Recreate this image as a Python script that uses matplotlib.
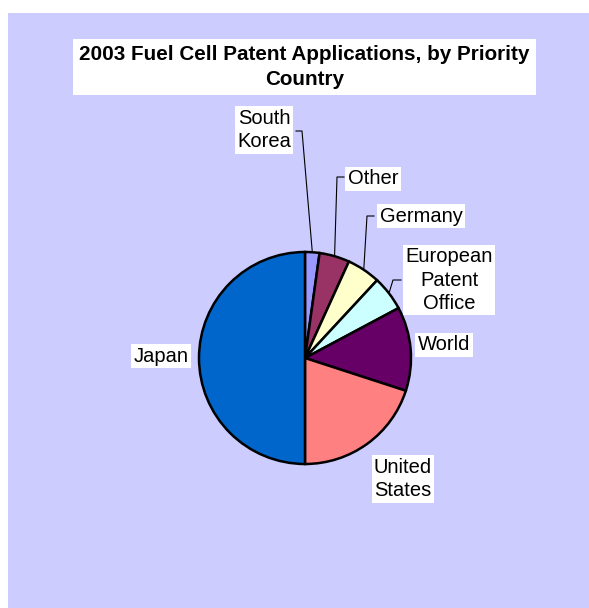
"""
2003 fuel cell patent applications by priority country, drawn as an
Excel-style pie chart with boxed labels and leader lines.
"""

import numpy as np
import matplotlib
matplotlib.use('Agg')
import matplotlib.pyplot as plt
import matplotlib.patches as mpatches

plt.rcParams['font.family'] = ['Liberation Sans', 'DejaVu Sans']

W, H = 589, 608

# ── Data (share of applications, %) ───────────────────────────────────────────
countries = ['South Korea', 'Other', 'Germany', 'European Patent Office',
             'World', 'United States', 'Japan']
shares    = [2.2, 4.6, 5.1, 5.3, 12.8, 20.0, 50.0]
colors    = ['#9999FF', '#993366', '#FFFFCC', '#CCFFFF',
             '#660066', '#FF8080', '#0066CC']
label_text = ['South\nKorea', 'Other', 'Germany', 'European\nPatent\nOffice',
              'World', 'United\nStates', 'Japan']

# label centres in pixels (y measured from the top)
label_pos = [(264, 130), (373, 179), (421, 216), (449, 280),
             (444, 345), (403, 479), (161, 356)]
# leader lines: (label side point, knee); None = no leader
leaders = [((296, 131), (302, 131)),
           ((344, 177), (337, 177)),
           ((374, 216), (367, 216)),
           ((401, 280), (393, 280)),
           None, None, None]

CX, CY, R = 305, 358, 106


def Y(y):
    return H - y


fig = plt.figure(figsize=(W / 100, H / 100), dpi=100)
fig.patch.set_facecolor('white')
ax = fig.add_axes([0, 0, 1, 1])

# chart area
ax.add_patch(mpatches.Rectangle((7.5, 0), W - 7.5, Y(13), facecolor='#CCCCFF',
                                edgecolor='none', zorder=0))

wedges, _ = ax.pie(shares, colors=colors, startangle=90, counterclock=False,
                   center=(CX, Y(CY)), radius=R,
                   wedgeprops=dict(edgecolor='black', linewidth=1.8))

ax.set_xlim(0, W)
ax.set_ylim(0, H)
ax.set_aspect('auto')
ax.axis('off')

# ── Labels ────────────────────────────────────────────────────────────────────
for w, txt, (lx, ly), lead in zip(wedges, label_text, label_pos, leaders):
    ax.text(lx, Y(ly), txt, ha='center', va='center', fontsize=14.5,
            linespacing=1.3, color='black', zorder=5,
            bbox=dict(boxstyle='square,pad=0.12', facecolor='white',
                      edgecolor='none'))
    if lead is not None:
        mid = np.deg2rad((w.theta1 + w.theta2) / 2)
        px = CX + R * np.cos(mid)
        py = Y(CY) + R * np.sin(mid)
        (ex, ey), (kx, ky) = lead
        ax.plot([ex, kx, px], [Y(ey), Y(ky), py], color='black',
                linewidth=0.8, zorder=4)

# ── Title ─────────────────────────────────────────────────────────────────────
ax.text(304.5, Y(67), '2003 Fuel Cell Patent Applications, by Priority\nCountry',
        ha='center', va='center', fontsize=14.9, fontweight='bold',
        linespacing=1.35, zorder=5,
        bbox=dict(boxstyle='square,pad=0.32', facecolor='white',
                  edgecolor='none'))

plt.savefig('out.png', dpi=100)
plt.close(fig)
